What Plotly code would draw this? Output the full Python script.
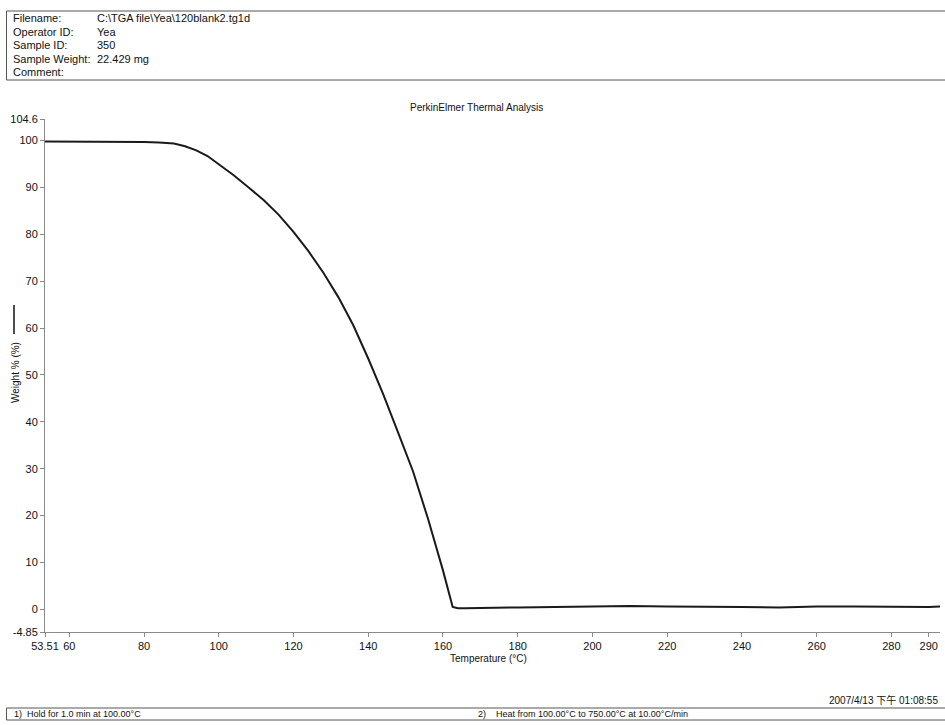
import plotly.graph_objects as go

# Data
temperature = [53.51, 60, 70, 80, 84, 88, 91, 94, 97, 100, 104, 108, 112, 116, 120, 124, 128,
               132, 136, 140, 144, 148, 152, 156, 160, 162.6, 164, 166, 170, 180, 190, 200,
               210, 220, 230, 240, 250, 260, 270, 280, 290, 293]
weight_pct = [99.8, 99.8, 99.75, 99.7, 99.6, 99.35, 98.8, 97.9, 96.7, 95.0, 92.6, 90.0, 87.3,
              84.2, 80.5, 76.4, 71.8, 66.6, 60.6, 53.5, 45.9, 37.7, 29.4, 19.3, 8.3, 0.5, 0.2,
              0.2, 0.3, 0.4, 0.5, 0.6, 0.7, 0.6, 0.6, 0.5, 0.4, 0.6, 0.6, 0.5, 0.5, 0.6]

x_tickvals = [53.51, 60, 80, 100, 120, 140, 160, 180, 200, 220, 240, 260, 280, 290]
x_ticktext = ["53.51", "60", "80", "100", "120", "140", "160", "180", "200", "220", "240",
              "260", "280", "290"]
y_tickvals = [-4.85, 0, 10, 20, 30, 40, 50, 60, 70, 80, 90, 100, 104.6]
y_ticktext = ["-4.85", "0", "10", "20", "30", "40", "50", "60", "70", "80", "90", "100", "104.6"]

header_labels = ["Filename:", "Operator ID:", "Sample ID:", "Sample Weight:", "Comment:"]
header_values = ["C:\\TGA file\\Yea\\120blank2.tg1d", "Yea", "350", "22.429 mg", ""]

# body margin is removed by post_script, so the figure fills the window
W, H = 945, 725
L, R, T, B = 45, 5, 119, 93
PW, PH = W - L - R, H - T - B


def px(xpage):
    return (xpage - L) / PW


def py(ypage):
    return (H - B - ypage) / PH


FONT = "Arial, Liberation Sans, sans-serif"

fig = go.Figure()
fig.add_trace(go.Scatter(x=temperature, y=weight_pct, mode="lines",
                         line=dict(color="#1a1a1a", width=2), showlegend=False,
                         hoverinfo="skip"))

axis_common = dict(showgrid=False, zeroline=False, showline=True, linecolor="#8a8a8a",
                   linewidth=1, ticks="outside", ticklen=4, tickcolor="#8a8a8a",
                   tickfont=dict(family=FONT, size=11, color="#111"))
fig.update_xaxes(range=[53.51, 293], tickvals=x_tickvals, ticktext=x_ticktext, **axis_common)
fig.update_yaxes(range=[-4.85, 104.6], tickvals=y_tickvals, ticktext=y_ticktext, **axis_common)

shapes = []
annotations = []

# Header box
shapes.append(dict(type="rect", xref="paper", yref="paper", x0=px(6.5), x1=px(960),
                   y0=py(80), y1=py(11), line=dict(color="#555", width=1)))
rows_y = [18, 31.5, 45, 59, 72]
for lab, val, yy in zip(header_labels, header_values, rows_y):
    annotations.append(dict(xref="paper", yref="paper", x=px(11), y=py(yy), text=lab,
                            showarrow=False, xanchor="left", yanchor="middle",
                            font=dict(family=FONT, size=11, color="#111")))
    if val:
        annotations.append(dict(xref="paper", yref="paper", x=px(95), y=py(yy), text=val,
                                showarrow=False, xanchor="left", yanchor="middle",
                                font=dict(family=FONT, size=11, color="#111")))

# Title
annotations.append(dict(xref="paper", yref="paper", x=px(476), y=py(107),
                        text="PerkinElmer Thermal Analysis", showarrow=False,
                        xanchor="center", yanchor="middle",
                        font=dict(family=FONT, size=10, color="#111")))

# Y axis title with legend line
annotations.append(dict(xref="paper", yref="paper", x=px(15), y=py(373),
                        text="Weight % (%)", textangle=-90, showarrow=False,
                        xanchor="center", yanchor="middle",
                        font=dict(family=FONT, size=10, color="#111")))
shapes.append(dict(type="line", xref="paper", yref="paper", x0=px(14), x1=px(14),
                   y0=py(305), y1=py(334), line=dict(color="#111", width=1.5)))

# X axis title
annotations.append(dict(xref="paper", yref="paper", x=px(488), y=py(658),
                        text="Temperature (°C)", showarrow=False,
                        xanchor="center", yanchor="middle",
                        font=dict(family=FONT, size=10, color="#111")))

# Date stamp
annotations.append(dict(xref="paper", yref="paper", x=px(940), y=py(700),
                        text="2007/4/13 下午 01:08:55", showarrow=False,
                        xanchor="right", yanchor="middle",
                        font=dict(family="Arial, Liberation Sans, Noto Sans CJK TC", size=10,
                                  color="#111")))

# Bottom method box
shapes.append(dict(type="rect", xref="paper", yref="paper", x0=px(6.5), x1=px(960),
                   y0=py(720), y1=py(708), line=dict(color="#555", width=1)))
annotations.append(dict(xref="paper", yref="paper", x=px(12), y=py(714),
                        text="1)  Hold for 1.0 min at 100.00°C", showarrow=False,
                        xanchor="left", yanchor="middle",
                        font=dict(family=FONT, size=9, color="#111")))
annotations.append(dict(xref="paper", yref="paper", x=px(476), y=py(714),
                        text="2)    Heat from 100.00°C to 750.00°C at 10.00°C/min",
                        showarrow=False, xanchor="left", yanchor="middle",
                        font=dict(family=FONT, size=9, color="#111")))

fig.update_layout(width=W, height=H, margin=dict(l=L, r=R, t=T, b=B),
                  paper_bgcolor="white", plot_bgcolor="white",
                  shapes=shapes, annotations=annotations, showlegend=False)

fig.write_html("out.html", config={"displayModeBar": False},
               post_script="document.body.style.margin='0';document.body.style.overflow='hidden';")
